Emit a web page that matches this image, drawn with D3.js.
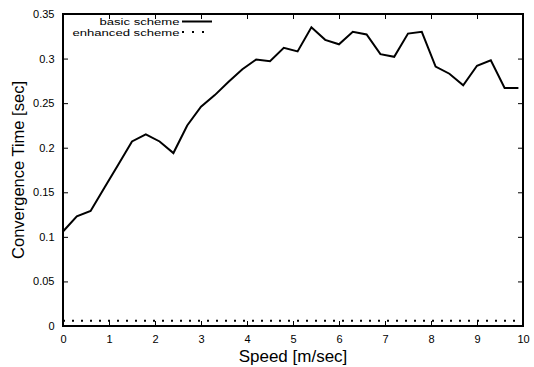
<!DOCTYPE html>
<html><head><meta charset="utf-8">
<script src="https://cdn.jsdelivr.net/npm/d3@7/dist/d3.min.js"></script>
<style>
body{margin:0;background:#fff}
svg{display:block}
text{font-family:"Liberation Sans",Arial,Helvetica,sans-serif;fill:#000}
</style>
</head><body>
<svg id="chart" width="534" height="367"></svg>
<script>
// ---- data ----
const speeds = [0,0.3,0.6,0.9,1.2,1.5,1.8,2.1,2.4,2.7,3.0,3.3,3.6,3.9,4.2,4.5,4.8,5.1,5.4,5.7,6.0,6.3,6.6,6.9,7.2,7.5,7.8,8.1,8.4,8.7,9.0,9.3,9.6,9.9];
const basicScheme = [0.106,0.123,0.129,0.155,0.181,0.207,0.215,0.207,0.194,0.225,0.246,0.259,0.274,0.288,0.299,0.297,0.312,0.308,0.335,0.321,0.316,0.330,0.327,0.305,0.302,0.328,0.330,0.291,0.283,0.270,0.292,0.298,0.267,0.267];
const enhancedScheme = [0.006,0.006,0.006,0.006,0.006,0.006,0.006,0.006,0.006,0.006,0.006,0.006,0.006,0.006,0.006,0.006,0.006,0.006,0.006,0.006,0.006,0.006,0.006,0.006,0.006,0.006,0.006,0.006,0.006,0.006,0.006,0.006,0.006,0.006];
const seriesNames = ["basic scheme","enhanced scheme"];
const xTicks = [0,1,2,3,4,5,6,7,8,9,10];
const xTickLabels = ["0","1","2","3","4","5","6","7","8","9","10"];
const yTicks = [0,0.05,0.1,0.15,0.2,0.25,0.3,0.35];
const yTickLabels = ["0","0.05","0.1","0.15","0.2","0.25","0.3","0.35"];
const xTitle = "Speed [m/sec]";
const yTitle = "Convergence Time [sec]";

// ---- layout ----
const W = 534, H = 367;
const m = {left:63, right:11, top:14, bottom:41};
const svg = d3.select("#chart");
const iw = W - m.left - m.right, ih = H - m.top - m.bottom;
const g = svg.append("g").attr("transform",`translate(${m.left},${m.top})`);

const x = d3.scaleLinear().domain([0,10]).range([0,iw]);
const y = d3.scaleLinear().domain([0,0.35]).range([ih,0]);

function styleAxis(sel){
  sel.select(".domain").remove();
  sel.selectAll(".tick line").attr("stroke","#000").attr("stroke-width",1);
  sel.selectAll(".tick text").attr("font-size",11).attr("font-family",'"Liberation Sans",Arial,sans-serif').attr("fill","#000");
}

g.append("g").attr("transform",`translate(0,${ih})`)
  .call(d3.axisBottom(x).tickValues(xTicks).tickFormat((d,i)=>xTickLabels[i]).tickSize(-5).tickPadding(9))
  .call(styleAxis);
g.append("g")
  .call(d3.axisTop(x).tickValues(xTicks).tickFormat("").tickSize(-5))
  .call(styleAxis);
g.append("g")
  .call(d3.axisLeft(y).tickValues(yTicks).tickFormat((d,i)=>yTickLabels[i]).tickSize(-5).tickPadding(8.5))
  .call(styleAxis);
g.append("g").attr("transform",`translate(${iw},0)`)
  .call(d3.axisRight(y).tickValues(yTicks).tickFormat("").tickSize(-5))
  .call(styleAxis);

// frame
g.append("rect").attr("x",0).attr("y",0).attr("width",iw).attr("height",ih)
  .attr("fill","none").attr("stroke","#000").attr("stroke-width",2);

// series
const line = d3.line().x(d=>x(d[0])).y(d=>y(d[1]));
g.append("path").datum(speeds.map((s,i)=>[s,basicScheme[i]]))
  .attr("d",line).attr("fill","none").attr("stroke","#000").attr("stroke-width",2).attr("stroke-linejoin","miter");
g.append("path").datum(speeds.map((s,i)=>[s,enhancedScheme[i]]))
  .attr("d",line).attr("fill","none").attr("stroke","#000").attr("stroke-width",2).attr("stroke-dasharray","2,7");

// legend
const leg = svg.append("g");
const legRows = [{name:seriesNames[0],dash:null,ty:25,ly:21.5},{name:seriesNames[1],dash:"2,8",ty:35.6,ly:32}];
legRows.forEach(r=>{
  leg.append("g").attr("transform",`translate(179.5,${r.ty}) scale(1.38,1)`)
    .append("text").attr("text-anchor","end").attr("font-size",9.5).text(r.name);
  const p = leg.append("line").attr("x1",182).attr("x2",212).attr("y1",r.ly).attr("y2",r.ly)
    .attr("stroke","#000").attr("stroke-width",2);
  if(r.dash) p.attr("stroke-dasharray",r.dash);
});

// axis titles
svg.append("text").attr("x",m.left+iw/2).attr("y",362).attr("text-anchor","middle")
  .attr("font-size",17).text(xTitle);
svg.append("text").attr("transform",`translate(24,${m.top+ih/2}) rotate(-90)`).attr("text-anchor","middle")
  .attr("font-size",16.5).text(yTitle);
</script>
</body></html>
